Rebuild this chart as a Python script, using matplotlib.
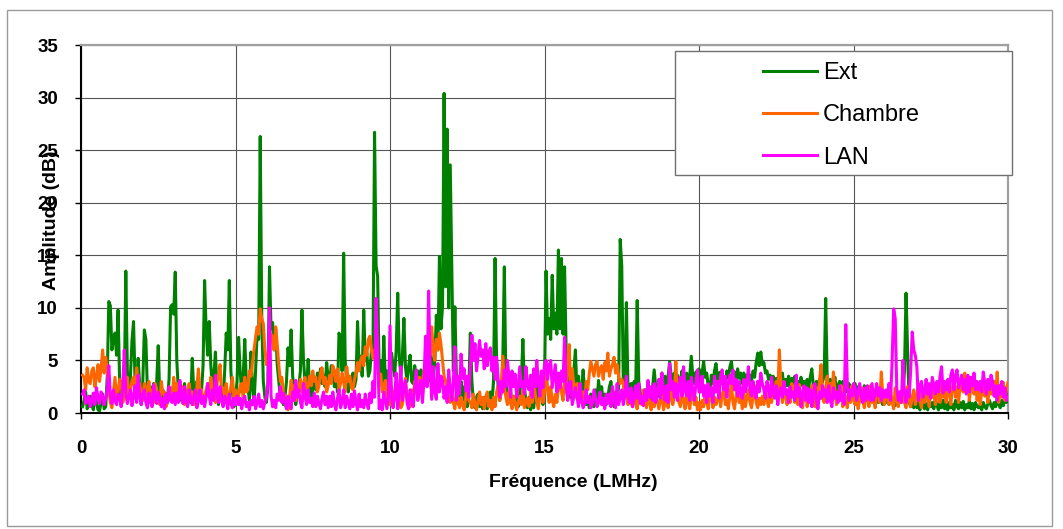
import numpy as np
import matplotlib
matplotlib.use("Agg")
import matplotlib.pyplot as plt
from matplotlib.patches import Rectangle

plt.rcParams['font.family'] = ['Liberation Sans', 'DejaVu Sans']

# Frequency grid in MHz (0.05 MHz step, 0.05 .. 30.00)
freq = np.round(np.arange(1, 601) * 0.05, 2)

# Amplitude (dB), one row per MHz (20 samples each)
ext = [
    0.6, 1.2, 2.0, 0.4, 0.9, 1.6, 0.8, 0.3, 1.5, 1.1, 0.3, 0.2, 1.0, 1.8, 0.4, 0.6, 3.5, 10.6, 10.2, 6.0,
    7.0, 7.6, 5.5, 9.8, 3.0, 0.8, 1.5, 2.0, 13.5, 4.0, 1.5, 3.5, 6.9, 8.7, 3.0, 2.0, 5.2, 2.5, 0.8, 3.0,
    7.9, 7.0, 2.0, 1.0, 2.5, 0.8, 2.8, 1.2, 3.0, 6.4, 1.5, 1.0, 2.2, 0.5, 1.8, 1.4, 3.2, 10.1, 10.3, 9.4,
    13.4, 5.0, 2.2, 1.2, 2.4, 1.0, 2.8, 1.3, 0.8, 2.0, 1.0, 5.2, 2.0, 1.5, 3.0, 1.8, 2.6, 2.0, 4.5, 12.6,
    7.9, 5.5, 8.7, 4.6, 2.5, 3.5, 5.8, 2.2, 0.8, 1.8, 2.5, 1.2, 4.0, 7.6, 6.0, 12.6, 4.0, 2.0, 0.6, 1.5,
    3.0, 7.2, 4.0, 2.0, 3.5, 7.0, 3.0, 2.5, 1.2, 5.8, 2.5, 1.0, 4.0, 7.6, 7.0, 26.3, 9.0, 3.0, 1.5, 1.0,
    2.5, 13.9, 8.0, 8.6, 6.0, 8.0, 4.6, 3.0, 1.5, 2.2, 0.8, 1.5, 3.0, 6.2, 4.5, 7.9, 3.5, 2.0, 0.8, 1.8,
    2.5, 4.0, 9.8, 5.0, 3.0, 2.0, 5.1, 2.5, 1.0, 2.4, 3.2, 2.2, 3.8, 2.8, 4.2, 2.8, 3.6, 2.5, 4.8, 3.2,
    3.0, 4.5, 4.2, 2.5, 3.4, 2.0, 7.6, 7.0, 4.0, 15.2, 5.0, 2.8, 2.0, 3.5, 2.8, 3.8, 2.5, 3.2, 8.7, 4.5,
    5.4, 3.5, 9.8, 5.0, 5.7, 3.5, 4.0, 6.0, 6.0, 26.7, 14.0, 13.0, 3.7, 5.0, 2.5, 7.3, 3.0, 4.0, 1.6, 3.0,
    5.7, 4.5, 3.5, 6.0, 11.4, 5.4, 3.5, 5.4, 9.0, 4.4, 3.0, 4.4, 5.5, 3.0, 2.8, 4.5, 3.0, 4.0, 2.5, 4.1,
    2.5, 4.0, 3.0, 5.0, 3.0, 6.0, 5.0, 3.0, 5.0, 9.3, 6.0, 14.9, 8.0, 10.1, 30.4, 12.0, 27.0, 10.0, 23.6, 13.9,
    4.0, 10.1, 3.2, 1.5, 1.8, 3.0, 1.2, 2.5, 1.5, 0.6, 2.2, 7.6, 3.0, 1.0, 0.5, 1.5, 1.8, 0.6, 1.2, 0.4,
    1.5, 0.5, 0.4, 1.6, 2.0, 1.0, 3.0, 14.7, 4.8, 2.5, 1.2, 2.0, 5.0, 13.9, 3.0, 1.5, 1.0, 2.2, 0.8, 1.6,
    0.8, 1.8, 0.6, 2.0, 3.0, 7.0, 2.5, 1.0, 0.5, 1.5, 0.3, 1.2, 0.5, 2.0, 1.0, 3.5, 1.5, 2.5, 0.8, 3.0,
    13.5, 7.5, 9.0, 7.0, 13.1, 8.0, 9.5, 7.5, 15.5, 8.0, 14.7, 7.5, 13.9, 6.0, 3.0, 1.5, 2.5, 1.2, 4.0, 6.0,
    2.0, 3.5, 1.2, 2.2, 4.1, 2.0, 0.8, 1.5, 0.5, 1.8, 1.5, 0.6, 2.2, 1.2, 3.1, 1.5, 2.5, 0.8, 1.8, 0.8,
    1.5, 2.5, 3.0, 1.5, 0.6, 2.0, 1.2, 2.5, 16.5, 14.0, 3.0, 2.0, 10.5, 2.5, 1.8, 2.8, 1.5, 3.0, 2.0, 10.7,
    3.0, 2.0, 1.0, 1.5, 2.2, 0.8, 1.5, 2.5, 1.2, 2.5, 4.1, 2.5, 1.5, 3.0, 2.2, 3.8, 2.2, 3.5, 2.8, 3.5,
    4.9, 3.5, 3.0, 3.8, 2.5, 3.6, 2.5, 3.2, 4.0, 3.0, 2.8, 3.8, 2.2, 3.5, 5.4, 3.5, 2.8, 3.9, 3.2, 4.2,
    3.0, 3.8, 4.9, 3.4, 3.8, 2.5, 2.0, 3.6, 2.8, 4.0, 4.7, 3.2, 3.8, 3.9, 2.8, 3.4, 2.8, 4.0, 3.3, 4.4,
    4.9, 3.4, 3.9, 3.0, 4.2, 3.3, 3.8, 2.8, 3.8, 3.0, 3.6, 2.9, 3.6, 3.1, 4.0, 3.4, 4.8, 5.7, 4.5, 5.8,
    4.6, 4.8, 3.8, 4.0, 3.2, 3.6, 3.0, 3.5, 2.6, 3.3, 2.8, 3.4, 2.5, 3.8, 2.2, 3.2, 2.6, 3.5, 2.4, 3.3,
    2.8, 3.5, 2.2, 3.0, 2.5, 3.4, 2.6, 3.0, 2.2, 3.2, 2.4, 3.4, 4.2, 2.6, 2.0, 3.0, 2.4, 3.2, 2.6, 3.0,
    3.5, 10.9, 3.0, 2.5, 3.2, 2.0, 2.8, 3.4, 1.8, 2.6, 3.0, 2.2, 3.0, 2.4, 3.2, 2.0, 2.8, 2.4, 1.8, 2.6,
    2.8, 1.8, 2.5, 1.4, 2.2, 1.5, 2.6, 1.2, 1.7, 1.0, 2.0, 1.3, 1.8, 0.9, 1.6, 1.0, 1.7, 1.2, 0.8, 1.5,
    1.0, 1.5, 0.8, 1.6, 1.0, 1.4, 0.7, 1.8, 1.2, 2.0, 1.4, 2.2, 4.0, 11.4, 6.0, 1.0, 0.6, 1.2, 0.5, 1.0,
    0.5, 1.0, 0.3, 0.8, 1.2, 0.4, 0.9, 0.3, 1.1, 0.6, 1.0, 0.4, 1.3, 0.7, 0.3, 1.0, 0.5, 1.2, 0.4, 0.9,
    0.3, 1.0, 0.5, 0.8, 0.3, 1.2, 0.6, 0.4, 1.0, 0.5, 1.1, 0.3, 0.8, 0.5, 1.2, 0.4, 0.9, 0.3, 1.0, 0.6,
    0.5, 0.8, 0.3, 1.0, 0.6, 0.4, 0.9, 1.2, 0.7, 0.4, 1.0, 0.6, 1.4, 0.8, 0.5, 1.2, 0.7, 1.5, 1.0, 2.0,
]

chambre = [
    3.6, 3.4, 2.2, 4.3, 3.0, 2.8, 4.0, 4.3, 2.5, 3.4, 4.6, 3.0, 4.2, 6.0, 3.8, 5.3, 4.0, 2.2, 1.0, 0.5,
    2.0, 3.4, 1.5, 2.0, 3.2, 3.0, 1.0, 1.5, 2.5, 3.4, 1.5, 2.2, 3.0, 3.4, 2.2, 4.3, 3.0, 2.8, 1.8, 1.2,
    2.8, 1.6, 2.4, 3.0, 1.5, 2.2, 1.0, 2.8, 2.0, 1.8, 0.8, 3.0, 1.8, 2.0, 0.6, 1.0, 2.0, 2.4, 1.5, 3.4,
    2.0, 2.8, 1.2, 1.8, 2.6, 2.2, 0.8, 1.0, 2.0, 2.8, 1.5, 2.0, 0.8, 1.4, 2.5, 4.2, 2.0, 2.2, 1.0, 1.6,
    2.2, 2.8, 1.8, 3.4, 2.4, 2.0, 1.0, 2.8, 3.5, 4.6, 2.0, 2.4, 1.5, 2.8, 1.0, 1.6, 2.5, 3.4, 1.5, 2.2,
    1.0, 1.6, 2.6, 2.8, 1.5, 3.4, 2.0, 2.2, 4.0, 3.5, 4.8, 6.0, 7.2, 8.2, 7.5, 9.9, 9.0, 8.5, 6.0, 4.6,
    5.5, 6.0, 7.5, 7.2, 6.0, 8.2, 6.5, 4.6, 3.0, 3.4, 2.0, 1.6, 0.8, 0.3, 1.5, 3.1, 1.8, 2.6, 1.2, 1.8,
    2.4, 3.2, 2.0, 2.8, 3.4, 1.5, 2.5, 3.5, 2.6, 4.0, 3.0, 3.4, 2.0, 2.6, 3.8, 4.3, 2.8, 3.4, 2.0, 2.6,
    3.6, 2.8, 4.5, 4.0, 3.0, 4.2, 2.2, 2.8, 3.8, 3.0, 2.0, 4.4, 3.0, 3.5, 2.4, 2.2, 3.2, 3.8, 4.8, 4.0,
    5.0, 5.4, 4.5, 6.3, 5.5, 7.0, 7.3, 6.0, 5.2, 6.0, 4.8, 4.4, 3.0, 3.7, 2.0, 2.5, 3.1, 1.5, 1.8, 0.8,
    2.5, 1.2, 1.6, 2.8, 1.0, 1.6, 0.5, 0.8, 2.0, 3.3, 1.5, 1.8, 0.6, 2.2, 1.2, 3.0, 2.0, 2.6, 3.4, 2.0,
    3.0, 4.0, 5.1, 4.5, 7.6, 5.5, 8.2, 6.0, 5.0, 7.0, 6.0, 7.6, 6.5, 5.0, 3.5, 3.0, 2.0, 1.6, 1.0, 1.8,
    1.0, 0.4, 2.2, 1.0, 0.5, 1.5, 0.8, 0.3, 1.5, 3.1, 1.2, 1.0, 0.5, 1.8, 0.8, 0.3, 1.2, 2.0, 0.8, 1.5,
    0.4, 1.5, 2.0, 0.6, 1.2, 0.3, 1.5, 0.6, 2.0, 2.6, 1.2, 2.0, 5.4, 2.5, 1.5, 0.8, 2.0, 1.0, 0.4, 1.6,
    1.0, 0.3, 1.0, 1.6, 0.8, 2.2, 0.5, 1.2, 1.4, 0.6, 2.0, 1.0, 3.0, 1.8, 1.0, 0.4, 1.6, 2.5, 1.0, 2.0,
    4.7, 2.2, 1.0, 2.5, 1.2, 0.6, 1.8, 1.0, 2.4, 3.0, 2.0, 1.2, 3.5, 2.0, 4.5, 6.5, 2.0, 4.2, 2.5, 1.5,
    2.8, 1.2, 2.8, 1.0, 2.0, 1.0, 3.0, 2.2, 3.8, 4.9, 4.2, 3.5, 4.6, 4.9, 3.5, 4.2, 4.5, 3.2, 4.8, 4.0,
    5.7, 3.5, 4.2, 4.6, 5.3, 3.8, 4.6, 3.5, 2.8, 3.2, 2.8, 1.5, 2.2, 0.8, 1.6, 0.9, 0.6, 1.8, 1.0, 0.4,
    1.8, 1.0, 0.8, 2.2, 1.2, 0.5, 1.5, 1.0, 0.3, 1.6, 0.6, 1.8, 1.2, 0.4, 1.2, 2.0, 0.3, 0.9, 1.6, 0.5,
    1.5, 2.2, 0.8, 1.5, 4.9, 2.0, 1.0, 0.6, 1.8, 1.2, 0.4, 2.0, 1.0, 0.4, 1.5, 2.4, 0.8, 1.5, 0.3, 1.0,
    0.3, 1.2, 0.6, 2.0, 1.0, 0.4, 1.6, 2.2, 0.5, 1.5, 0.8, 1.2, 2.0, 0.6, 1.8, 2.2, 0.8, 1.2, 0.4, 1.6,
    2.8, 1.0, 0.4, 1.6, 2.8, 1.0, 1.8, 0.4, 1.8, 0.6, 1.5, 2.2, 1.0, 0.5, 1.6, 2.6, 1.0, 0.5, 1.4, 0.8,
    1.6, 0.8, 2.5, 1.2, 0.6, 2.0, 1.0, 2.5, 1.5, 3.0, 1.8, 6.0, 2.5, 1.0, 3.0, 1.5, 0.8, 2.2, 1.0, 2.8,
    2.2, 1.0, 2.9, 0.8, 2.7, 1.2, 0.5, 1.8, 2.4, 0.6, 2.0, 1.0, 2.6, 1.5, 0.6, 2.4, 1.2, 3.0, 4.6, 1.5,
    1.0, 2.4, 3.5, 1.5, 2.8, 1.2, 3.9, 2.0, 0.8, 2.0, 1.2, 2.6, 0.6, 1.8, 1.5, 0.5, 2.2, 1.0, 2.6, 1.2,
    0.8, 1.6, 0.4, 1.2, 2.4, 1.2, 0.5, 1.5, 1.9, 0.6, 2.6, 1.0, 1.6, 0.5, 1.8, 2.4, 1.0, 3.9, 1.6, 0.8,
    1.5, 2.2, 0.8, 2.0, 1.0, 0.4, 2.4, 1.2, 0.6, 1.8, 1.0, 2.6, 1.0, 0.5, 2.5, 1.2, 0.6, 1.5, 2.2, 0.8,
    1.6, 2.8, 1.2, 0.5, 2.0, 1.0, 2.2, 1.4, 0.6, 2.6, 1.5, 2.0, 0.8, 1.6, 2.4, 1.0, 2.8, 1.5, 2.0, 1.0,
    2.8, 2.0, 0.8, 2.4, 3.2, 1.5, 2.5, 1.0, 2.6, 3.0, 2.0, 3.8, 2.2, 3.0, 1.2, 2.5, 3.4, 1.8, 2.8, 1.2,
    2.2, 0.8, 2.0, 3.0, 1.6, 2.4, 1.0, 2.8, 1.8, 2.4, 3.0, 1.5, 3.9, 1.0, 2.6, 1.5, 2.9, 1.2, 2.2, 2.9,
]

lan = [
    1.8, 2.2, 0.9, 1.2, 1.6, 0.6, 1.2, 1.9, 0.8, 2.4, 1.5, 0.9, 2.0, 1.6, 0.8, 1.4, 2.2, 4.5, 1.6, 0.9,
    2.2, 1.2, 0.8, 1.8, 1.6, 0.6, 2.4, 6.0, 1.9, 0.9, 1.5, 2.2, 0.7, 1.6, 2.6, 1.0, 3.6, 1.5, 0.8, 1.8,
    2.2, 1.0, 0.5, 1.9, 1.2, 0.6, 2.7, 1.5, 0.9, 2.0, 1.6, 0.6, 1.4, 0.4, 1.8, 1.0, 2.5, 1.2, 1.0, 1.9,
    0.8, 1.9, 1.0, 3.1, 1.5, 0.9, 2.5, 1.2, 0.6, 2.2, 1.4, 0.8, 1.6, 2.2, 0.5, 1.2, 2.2, 0.9, 1.6, 0.6,
    1.5, 2.8, 1.6, 0.8, 2.2, 1.2, 3.6, 1.8, 1.0, 2.5, 1.2, 0.6, 1.6, 1.2, 0.4, 1.8, 0.9, 0.5, 1.4, 0.8,
    1.6, 0.8, 1.4, 0.4, 1.2, 1.6, 0.6, 1.0, 0.3, 1.2, 0.8, 1.6, 0.4, 1.0, 1.8, 0.6, 1.2, 0.4, 1.0, 1.6,
    3.0, 10.0, 1.6, 0.6, 1.2, 0.5, 1.8, 1.2, 2.5, 1.0, 1.9, 0.9, 0.4, 1.6, 0.8, 0.4, 2.0, 1.2, 3.1, 1.5,
    2.2, 1.0, 0.5, 2.8, 1.6, 0.8, 2.2, 1.0, 1.4, 0.6, 1.9, 0.6, 1.6, 0.9, 0.4, 1.4, 2.0, 0.8, 1.6, 0.5,
    1.6, 0.6, 2.0, 0.8, 0.3, 1.4, 2.2, 0.5, 1.0, 2.2, 0.5, 1.6, 1.0, 0.4, 1.8, 0.6, 2.1, 1.0, 0.3, 1.8,
    0.6, 1.2, 0.5, 1.8, 0.9, 0.4, 1.9, 1.0, 3.0, 1.5, 10.9, 6.3, 0.4, 1.2, 0.3, 2.0, 1.2, 0.4, 1.5, 8.3,
    1.4, 0.5, 1.5, 3.8, 0.4, 2.0, 4.4, 1.2, 2.5, 3.1, 1.0, 0.4, 2.2, 1.5, 0.6, 2.4, 4.1, 1.2, 2.2, 3.1,
    1.0, 3.1, 7.3, 2.5, 11.6, 4.4, 1.3, 4.4, 2.0, 1.3, 4.7, 2.0, 3.5, 3.1, 1.4, 2.5, 1.0, 4.1, 2.2, 1.2,
    3.0, 6.3, 1.2, 3.5, 1.8, 5.6, 3.3, 4.2, 2.1, 3.5, 1.5, 4.5, 7.4, 5.0, 6.6, 4.0, 5.5, 6.9, 5.4, 6.0,
    4.2, 6.6, 4.5, 5.8, 6.2, 4.0, 5.3, 3.2, 5.3, 3.2, 1.5, 3.0, 2.0, 4.1, 2.5, 5.0, 3.5, 1.5, 4.0, 2.5,
    3.7, 1.5, 2.5, 4.4, 2.5, 3.0, 1.8, 4.4, 2.6, 2.2, 3.6, 1.5, 4.2, 2.5, 5.0, 3.0, 1.6, 4.0, 2.4, 4.6,
    5.0, 3.2, 4.5, 5.0, 2.4, 3.5, 4.6, 2.0, 3.8, 2.4, 4.0, 3.0, 7.2, 2.5, 1.2, 2.8, 3.0, 0.8, 1.6, 2.4,
    1.6, 0.6, 2.8, 1.2, 0.5, 0.9, 2.2, 1.0, 1.6, 0.5, 0.9, 2.2, 1.4, 0.6, 1.0, 2.0, 0.8, 1.4, 0.4, 1.8,
    0.9, 1.8, 0.6, 2.5, 1.2, 0.5, 2.8, 0.8, 1.5, 2.2, 0.8, 1.6, 3.5, 1.6, 1.0, 2.4, 0.6, 1.4, 2.6, 1.4,
    2.8, 0.9, 1.6, 0.7, 2.2, 1.2, 3.1, 1.5, 2.5, 1.2, 2.8, 1.0, 2.0, 3.2, 1.4, 3.8, 2.2, 1.2, 2.6, 1.0,
    4.7, 2.2, 3.0, 1.5, 2.8, 1.2, 2.4, 3.4, 1.6, 4.4, 2.2, 1.6, 3.0, 1.2, 3.4, 2.2, 1.2, 2.8, 4.1, 2.0,
    2.0, 3.5, 1.6, 2.6, 1.0, 2.8, 1.6, 2.4, 1.0, 3.5, 2.0, 3.0, 1.4, 3.5, 4.1, 2.2, 3.5, 1.5, 2.8, 3.6,
    2.8, 4.1, 2.2, 3.2, 1.6, 3.0, 2.0, 1.4, 3.2, 2.0, 2.8, 4.4, 2.2, 1.6, 3.0, 2.0, 1.4, 3.0, 2.0, 3.8,
    2.8, 2.2, 1.4, 3.0, 2.4, 1.5, 3.4, 2.0, 1.4, 2.6, 0.8, 2.0, 2.4, 1.5, 3.0, 1.8, 2.2, 1.0, 2.5, 1.5,
    2.0, 1.2, 3.6, 1.6, 2.4, 0.6, 1.9, 2.6, 1.2, 2.4, 1.0, 2.2, 0.6, 1.8, 2.8, 1.2, 0.4, 2.0, 1.4, 2.6,
    1.6, 2.2, 1.0, 2.6, 1.2, 0.6, 2.4, 1.4, 2.0, 1.0, 2.6, 1.2, 1.8, 0.8, 8.4, 2.8, 1.2, 2.2, 1.6, 2.8,
    2.4, 1.2, 2.0, 2.8, 1.6, 1.0, 2.4, 1.2, 2.6, 1.6, 1.2, 2.8, 1.2, 1.9, 2.8, 1.6, 2.4, 1.2, 2.2, 1.5,
    2.2, 1.5, 2.8, 1.2, 5.0, 9.9, 9.0, 2.4, 1.2, 2.0, 1.0, 5.0, 1.9, 1.0, 2.2, 1.5, 4.0, 7.7, 6.0, 5.5,
    4.4, 1.2, 2.4, 3.0, 1.5, 2.0, 3.2, 1.8, 2.8, 1.4, 3.4, 2.6, 1.8, 3.0, 2.0, 3.5, 4.4, 1.9, 3.0, 2.2,
    3.2, 2.0, 3.6, 4.1, 2.2, 3.5, 4.1, 2.4, 3.0, 3.6, 2.2, 3.2, 1.8, 3.6, 2.0, 3.4, 2.6, 3.8, 2.2, 3.0,
    2.2, 3.0, 2.0, 3.9, 2.8, 1.8, 3.2, 2.2, 3.6, 3.0, 1.6, 2.6, 1.2, 2.6, 1.8, 3.0, 1.5, 2.4, 1.2, 1.5,
]

series_names = ["Ext", "Chambre", "LAN"]
series_colors = ["#008000", "#FF6600", "#FF00FF"]
x_ticks = [0, 5, 10, 15, 20, 25, 30]
y_ticks = [0, 5, 10, 15, 20, 25, 30, 35]

W, H = 1063, 529
fig = plt.figure(figsize=(W / 100, H / 100), dpi=100)
fig.patch.set_facecolor("white")

# Outer chart border
fig.add_artist(Rectangle((7 / W, 1 - 526 / H), (1052 - 7) / W, (526 - 10) / H,
                         transform=fig.transFigure, fill=False,
                         edgecolor="#9a9a9a", linewidth=1.0))

x0, x1, y0, y1 = 81, 1008, 45, 413
ax = fig.add_axes([x0 / W, 1 - y1 / H, (x1 - x0) / W, (y1 - y0) / H])

lines = []
for vals, name, col in zip([ext, chambre, lan], series_names, series_colors):
    ln, = ax.plot(freq, vals, color=col, linewidth=2.2, label=name, zorder=3)
    lines.append(ln)

ax.set_xlim(0, 30)
ax.set_ylim(0, 35)
ax.set_xticks(x_ticks)
ax.set_yticks(y_ticks)
ax.set_xticklabels([str(t) for t in x_ticks])
ax.set_yticklabels([str(t) for t in y_ticks])

ax.grid(True, color="#555555", linewidth=0.8, zorder=1)
ax.set_axisbelow(True)

for side in ("top", "right"):
    ax.spines[side].set_color("#a0a0a0")
    ax.spines[side].set_linewidth(1.6)
for side in ("left", "bottom"):
    ax.spines[side].set_color("black")
    ax.spines[side].set_linewidth(1.5)

ax.tick_params(axis="both", direction="out", length=4.5, width=1.0,
               color="black", labelsize=13.5)
ax.tick_params(axis="y", pad=12)
ax.tick_params(axis="x", pad=15)
for lbl in ax.get_xticklabels() + ax.get_yticklabels():
    lbl.set_fontweight("bold")

ax.set_xlabel("Fréquence (LMHz)", fontsize=14, fontweight="bold")
ax.xaxis.set_label_coords((573 - x0) / (x1 - x0), (y1 - 474) / (y1 - y0))
ax.set_ylabel("Amplitude (dB)", fontsize=14, fontweight="bold")
ax.yaxis.set_label_coords((60 - x0) / (x1 - x0), (y1 - 220) / (y1 - y0))

# Legend box with white fill sitting over the plot area
fig.add_artist(Rectangle((675 / W, 1 - 175 / H), (1012 - 675) / W, (175 - 51) / H,
                         transform=fig.transFigure, facecolor="white",
                         edgecolor="#707070", linewidth=1.0, zorder=5))
leg = fig.legend(handles=lines, labels=series_names, loc="upper left",
                 bbox_to_anchor=(763 / W, 1 - 62 / H), frameon=False,
                 fontsize=17, handlelength=2.3, handletextpad=0.25,
                 labelspacing=0.86, borderpad=0, borderaxespad=0)
leg.set_zorder(6)
for h in leg.get_lines():
    h.set_linewidth(2.2)

fig.savefig("out.png", dpi=100, facecolor="white")
